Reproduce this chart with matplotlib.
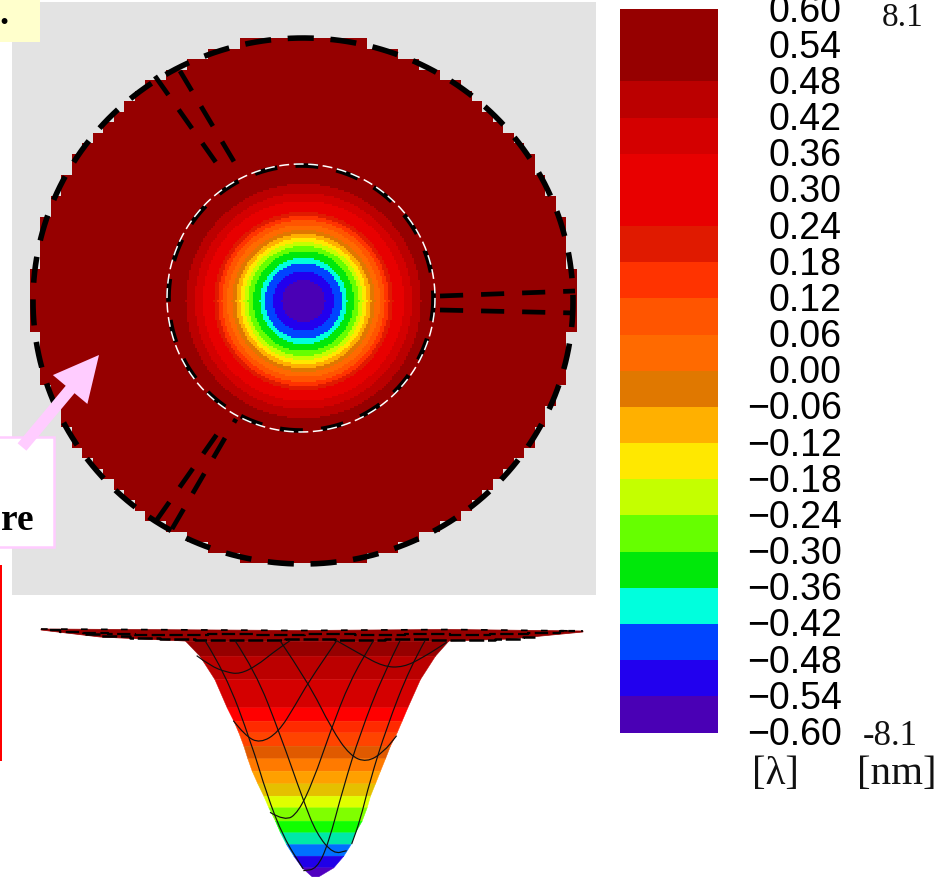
import numpy as np
import matplotlib
matplotlib.use("Agg")
import matplotlib.pyplot as plt
from matplotlib.colors import ListedColormap, BoundaryNorm
from matplotlib.patches import Rectangle, PathPatch
from matplotlib.path import Path
from matplotlib.transforms import ScaledTranslation

W, H = 946, 878

# ---- colour scale (bottom to top)
levels = [-0.60,-0.54,-0.48,-0.42,-0.36,-0.30,-0.24,-0.18,-0.12,-0.06,0.00,
          0.06,0.12,0.18,0.24,0.30,0.36,0.42,0.48,0.54,0.60]
band_colors = ['#4a00b5','#2200ee','#0044ff','#00ffdd','#00e80a','#66ff00','#c4ff00',
               '#ffe800','#ffb000','#e07800','#ff6a00','#ff5500','#ff3300','#e01a00',
               '#e80000','#e80000','#d40000','#bb0000','#960000','#960000']
tick_labels = ['\u22120.60','\u22120.54','\u22120.48','\u22120.42','\u22120.36','\u22120.30','\u22120.24',
               '\u22120.18','\u22120.12','\u22120.06','0.00','0.06','0.12','0.18','0.24','0.30',
               '0.36','0.42','0.48','0.54','0.60']

# ---- top view: outer radius of each colour band (px), same order as band_colors
ring_radius = [21,30,38,43,50,55,59,63,67,71,76,81,85,89,94,100,108,117,190,400]
disk_center = (303, 302)

# ---- side view: band edges and silhouette, read in a 3x crop with origin (170, 625)
side_y     = [50,95,165,250,290,325,365,403,440,478,515,550,590,625,660,695,730,757]
side_left  = [45,88,133,170,190,205,220,232,245,262,280,295,315,330,348,370,395,425]
side_right = [835,795,750,712,695,680,660,645,630,615,600,590,575,555,542,520,490,445]
side_colors = ['#960000','#bb0000','#d40000','#ff0000','#ff2a00','#ff4400','#e05a00','#ff7a00',
               '#ffa000','#e5c000','#e0ff00','#80ff00','#10ff00','#00e8a8','#0070ff','#2000e8','#5000c0']
mesh_lines = [
    ([80,120,170,210,260,310,360],[95,125,145,150,125,85,50]),
    ([500,570,640,700,760,830],[50,90,128,130,100,55]),
    ([190,225,270,325,375,415,500],[290,335,358,325,245,175,50]),
    ([330,415,485,540,590,640,680],[50,175,315,395,415,385,335]),
    ([300,345,385,430,480,540,610],[565,592,565,470,325,170,50]),
    ([195,255,330,400,440,490,530],[50,140,330,530,630,690,680]),
    ([690,640,570,520,475,440,400],[50,150,330,490,660,735,740]),
    ([765,720,650,600,570,545],[50,130,310,470,590,660]),
    ([105,165,245,290,340,400],[50,145,360,510,640,735]),
]
# flat rim of the side view, in picture pixels
rim_top_x = [41,130,300,450,583]
rim_top_y = [630,630.5,631.5,630.5,632]
rim_bot_x = [41,100,185,448,510,583]
rim_bot_y = [631,638,642,642,640,633]
rim_a_x = [50,70,95,120,150,185,230,280,330,380,430,470,510,545,575]
rim_a_y = [631,633,634,635,636,636,635,636,635,636,635,636,635,634,632]
rim_b_x = [85,115,145,175,215,260,310,360,410,450,480,510,535]
rim_b_y = [635,637,639,640,641,641,640,641,640,641,641,640,638]

# ---- guide lines in the top view
spoke_lines = [
    ((440,297),(575,292)), ((440,311),(575,314)),
    ((155,77),(222,172)), ((180,72),(236,166)),
    ((156,522),(222,428)), ((172,530),(236,420)),
]

fig = plt.figure(figsize=(W/100, H/100), dpi=100)
ax = fig.add_axes([0, 0, 1, 1])
ax.set_xlim(0, W); ax.set_ylim(H, 0); ax.axis('off')

cmap = ListedColormap(band_colors)

# grey panel
ax.add_patch(Rectangle((12, 3), 584, 593, fc='#e3e3e3', ec='none', zorder=1))

# top-view raster: fine sampling for bands, coarse blocks for the disc edge
xs = np.arange(12, 596) + 0.5
ys = np.arange(3, 596) + 0.5
X, Y = np.meshgrid(xs, ys)
cx, cy = disk_center
sx = np.floor((X - cx) / 2) * 2 + 1
sy = np.floor((Y - cy + 1) / 2) * 2
idx = np.searchsorted(ring_radius, np.hypot(sx, sy)).clip(0, len(band_colors) - 1)
bx = np.floor((X - cx) / 10.5) * 10.5 + 5.25
by = np.floor((Y - cy) / 10.5) * 10.5 + 5.25
img = np.ma.masked_where(np.hypot(bx / 270, by / 264) > 1.0, idx)
ax.imshow(img, cmap=cmap, vmin=-0.5, vmax=len(band_colors) - 0.5, extent=(12, 596, 596, 3),
          interpolation='nearest', aspect='auto', zorder=2)
ax.set_xlim(0, W); ax.set_ylim(H, 0)

# dashed circles and spokes
t = np.linspace(0, 2 * np.pi, 720)
ax.plot(303 + 270 * np.cos(t), 302 + 263 * np.sin(t), color='k', lw=4.0, dashes=(4.7, 3.0),
        dash_capstyle='butt', zorder=4)
ax.plot(301 + 132.5 * np.cos(t), 299 + 132.5 * np.sin(t), color='k', lw=3.3, dashes=(5, 4),
        dash_capstyle='butt', zorder=4)
ax.plot(301 + 134 * np.cos(t), 299 + 134 * np.sin(t), color='w', lw=1.1, dashes=(6.5, 3),
        dash_capstyle='butt', zorder=5)
for (a, b) in spoke_lines:
    ax.plot([a[0], b[0]], [a[1], b[1]], color='k', lw=3.4, dashes=(4.9, 3.8),
            dash_capstyle='butt', zorder=4)

# side view
Z = 3.0
zy = np.array(side_y) / Z + 625
zl = np.array(side_left) / Z + 170
zr = np.array(side_right) / Z + 170
for i, c in enumerate(side_colors):
    ax.fill_betweenx(zy[i:i+2], zl[i:i+2], zr[i:i+2], color=c, lw=0.3, zorder=3)
ax.fill(rim_top_x + rim_bot_x[::-1], rim_top_y + rim_bot_y[::-1], color='#960000', lw=0.5, zorder=3)
ax.plot(rim_top_x, rim_top_y, color='k', lw=1.2, dashes=(4, 8), zorder=4)
ax.plot(rim_a_x, rim_a_y, color='k', lw=1.6, dashes=(6, 2), drawstyle='steps-mid', zorder=4)
ax.plot(rim_b_x, rim_b_y, color='k', lw=1.8, dashes=(6, 1.5), drawstyle='steps-mid', zorder=4)
for mx, my in mesh_lines:
    p = np.column_stack([np.array(mx) / Z + 170, np.array(my) / Z + 625])
    verts, codes = [p[0]], [Path.MOVETO]
    for j in range(1, len(p) - 1):
        verts += [p[j], (p[j] + p[j + 1]) / 2]
        codes += [Path.CURVE3, Path.CURVE3]
    verts.append(p[-1]); codes.append(Path.LINETO)
    ax.add_patch(PathPatch(Path(verts, codes), fc='none', ec='#101010', lw=0.85, zorder=4))

# annotation boxes
ax.add_patch(Rectangle((-5, -5), 45, 48, fc='#ffffcc', ec='none', zorder=6))
ax.text(-1, 24, '.', family='Liberation Serif', weight='bold', fontsize=26, zorder=7)
ax.add_patch(Rectangle((-5, 438), 58.5, 110, fc='w', ec='#ffccff', lw=1.8, zorder=6))
ax.text(34, 530, 're', family='Liberation Serif', weight='bold', fontsize=27, ha='right',
        va='baseline', zorder=7)
ax.arrow(22, 448, 77, -92, width=11.5, head_width=45, head_length=45, length_includes_head=True,
         fc='#ffccff', ec='none', zorder=8)
ax.add_patch(Rectangle((0, 566), 2, 196, fc='#ff0000', ec='none', zorder=6))

# serif labels
serif = dict(family='Liberation Serif', color='#111111', zorder=7)
ax.text(903, 26, '8.1', ha='center', va='baseline', fontsize=24, **serif)
ax.text(890.5, 745, '-8.1', ha='center', va='baseline', fontsize=25, **serif)
ax.text(775, 784, '[\u03bb]', ha='center', va='baseline', fontsize=29.5, **serif)
ax.text(897, 784, '[nm]', ha='center', va='baseline', fontsize=29.5, **serif)

# colour bar
cax = fig.add_axes([620 / W, 1 - 733.5 / H, 98 / W, 723.5 / H])
cax.pcolormesh([0, 1], levels, np.arange(20).reshape(-1, 1), cmap=cmap,
               norm=BoundaryNorm(np.arange(21) - 0.5, 20), linewidth=0, antialiased=False)
cax.set_xticks([])
cax.set_ylim(-0.6, 0.6)
cax.yaxis.tick_right()
cax.set_yticks(levels)
cax.set_yticklabels(tick_labels, family='Liberation Sans', fontsize=27, ha='right', color='k')
cax.tick_params(axis='y', length=0, pad=88)
shift = ScaledTranslation(1.5 / 100, 2.5 / 100, fig.dpi_scale_trans)
for lab in cax.get_yticklabels():
    lab.set_transform(lab.get_transform() + shift)
for s in cax.spines.values():
    s.set_visible(False)

fig.savefig('out.png', dpi=100)
